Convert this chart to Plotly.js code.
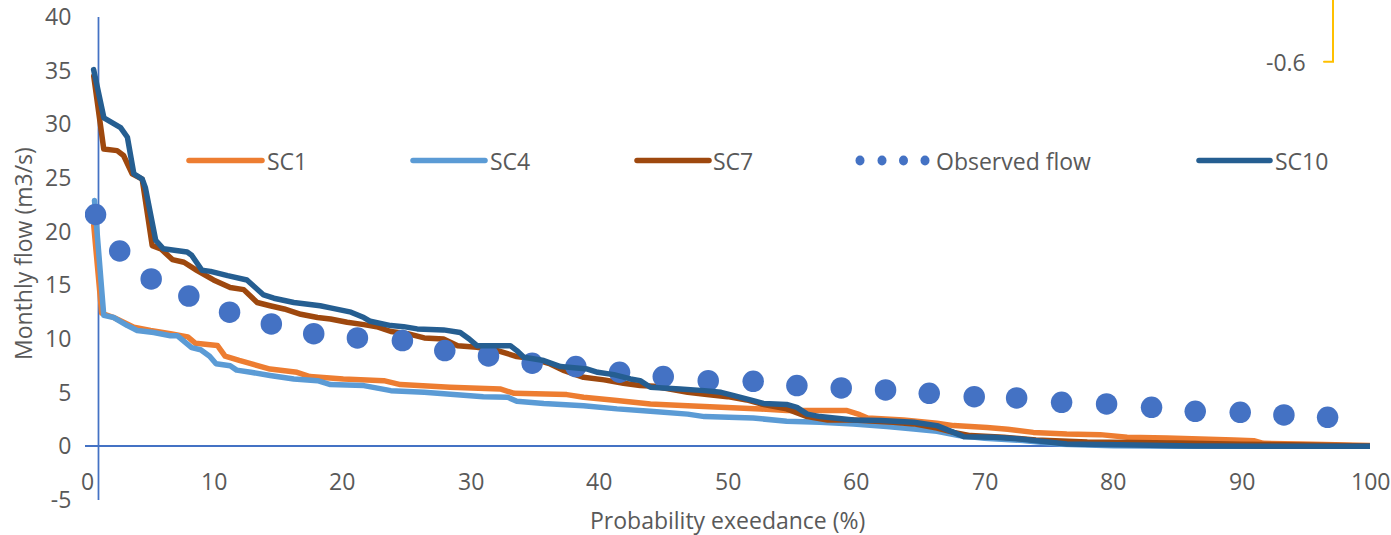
<!DOCTYPE html>
<html><head><meta charset="utf-8">
<script src="https://cdn.plot.ly/plotly-3.0.1.min.js"></script>
<style>html,body{margin:0;padding:0;background:#fff;} #chart{width:1391px;height:535px;}</style>
</head><body><div id="chart"></div>
<script>
// ---------------- data ----------------
const seriesNames = ['SC1', 'SC4', 'SC7', 'Observed flow', 'SC10'];

const sc1X = [0.68,1.3,2.24,3.0,3.8,5.1,6.65,8.0,8.6,10.3,10.9,12.0,12.9,14.4,16.5,17.5,20.1,23.25,24.55,28.4,32.3,33.4,37.5,38.8,41.4,44.0,46.9,49.5,52.6,54.6,59.3,60.3,60.9,63.7,66.3,67.6,70.2,71.8,73.8,76.4,79.0,81.1,84.2,89.4,90.95,91.7,94.6,100];
const sc1Y = [20.6,12.4,12.0,11.56,11.1,10.8,10.5,10.2,9.6,9.4,8.4,8.0,7.7,7.2,6.9,6.5,6.28,6.12,5.75,5.5,5.35,4.94,4.82,4.57,4.26,3.95,3.79,3.63,3.48,3.33,3.33,2.95,2.64,2.46,2.15,1.93,1.75,1.6,1.3,1.15,1.09,0.84,0.78,0.6,0.53,0.28,0.22,0.07];

const sc4X = [0.74,1.46,2.24,3.3,4.06,5.35,6.65,7.2,7.9,8.3,9.0,9.7,10.2,11.3,11.8,12.9,14.4,16.25,18.1,19.1,21.7,23.8,26.4,31.0,32.9,33.6,35.7,38.8,41.4,44.0,46.9,48.2,52.0,54.6,57.2,59.8,62.4,64.5,66.3,68,70,73,76,80,85,100];
const sc4Y = [22.9,12.2,12.0,11.25,10.8,10.6,10.3,10.3,9.6,9.2,9.0,8.4,7.7,7.5,7.1,6.9,6.6,6.28,6.12,5.75,5.66,5.19,5.03,4.63,4.57,4.2,4.0,3.79,3.49,3.26,3.0,2.77,2.64,2.33,2.24,2.09,1.84,1.62,1.4,1.0,0.75,0.55,0.2,0.05,0.0,0.0];

const sc7X = [0.68,1.46,2.5,3.0,3.67,4.45,5.23,5.9,6.8,7.7,8.7,10.0,11.3,12.35,13.4,14.4,15.5,16.8,18.1,19.1,20.4,21.7,22.7,23.8,25.1,26.4,27.9,29.0,30.5,32.1,33.6,34.9,36.2,37.3,38.8,40.4,41.9,43.2,44.3,46.9,48.4,50.0,51.5,52.6,54.6,56.2,57.8,59.8,62.9,64.5,66.3,67.6,68.9,71.5,74.0,78.0,85.0,90.0,95.0,100];
const sc7Y = [34.5,27.7,27.55,27.1,25.4,24.9,18.7,18.4,17.4,17.15,16.4,15.5,14.8,14.6,13.4,13.1,12.8,12.3,12.0,11.87,11.56,11.34,11.15,10.7,10.5,10.1,10.0,9.38,9.23,8.92,8.36,8.15,7.68,7.05,6.43,6.19,5.87,5.66,5.6,5.03,4.82,4.63,4.32,3.95,3.49,2.77,2.46,2.46,2.24,2.09,1.71,1.3,1.0,0.84,0.6,0.4,0.3,0.2,0.12,0.03];

const obsX = [0.82,2.7,5.15,8.08,11.25,14.5,17.8,21.2,24.7,28.0,31.4,34.8,38.2,41.6,45.0,48.5,52.0,55.4,58.85,62.3,65.7,69.2,72.5,76.0,79.5,83.0,86.4,89.9,93.3,96.7];
const obsY = [21.6,18.2,15.6,14.0,12.5,11.4,10.5,10.1,9.85,8.92,8.42,7.74,7.43,6.9,6.5,6.12,6.06,5.66,5.44,5.26,4.94,4.63,4.51,4.1,3.95,3.63,3.26,3.17,2.93,2.7];

const sc10X = [0.67,1.47,2.77,3.3,3.8,4.45,4.7,5.5,6.1,7.95,8.3,9.1,9.77,11.1,12.6,13.9,14.7,16.25,18.3,19.1,20.7,21.7,22.2,23.8,24.8,25.85,27.9,29.2,29.9,30.5,33.1,33.6,34.15,35.7,37.0,39.1,39.9,41.15,42.45,43.2,44.0,46.3,48.2,49.5,50.5,52.0,52.8,54.6,55.4,56.2,57.2,59.8,61.9,64.5,66.3,67.6,68.4,70.7,72.8,74.6,76.4,81.7,86.3,100];
const sc10Y = [35.1,30.6,29.7,28.8,25.4,24.9,24.1,19.2,18.4,18.1,17.8,16.4,16.3,15.9,15.5,14.1,13.8,13.4,13.1,12.9,12.5,12.0,11.65,11.25,11.15,10.94,10.85,10.6,10.0,9.38,9.38,8.92,8.3,7.99,7.43,7.2,6.9,6.68,6.28,6.12,5.5,5.35,5.19,5.03,4.72,4.26,4.0,3.9,3.63,3.0,2.77,2.46,2.4,2.24,1.93,1.3,0.9,0.84,0.69,0.45,0.22,0.12,0.02,0.0];

const xTickVals = [0,10,20,30,40,50,60,70,80,90,100];
const xTickText = ['0','10','20','30','40','50','60','70','80','90','100'];
const yTickVals = [-5,0,5,10,15,20,25,30,35,40];
const yTickText = ['-5','0','5','10','15','20','25','30','35','40'];
const xTitle = 'Probability exeedance (%)';
const yTitle = 'Monthly flow (m3/s)';
const strayLabel = '-0.6';
const yAxisCrossX = 1.05;

// ---------------- styles ----------------
const colors = {SC1:'#ED7D31', SC4:'#5B9BD5', SC7:'#9E480E', 'Observed flow':'#4472C4', SC10:'#255E91'};
const FONT = '"Open Sans", "Noto Sans", sans-serif';
const FS = 23;
const TXT = '#595959';
const AXIS = '#4472C4';

const M = {l:85, r:21, t:17, b:35};
const W = 1391 - M.l - M.r, H = 535 - M.t - M.b;
const px = x => (x - M.l) / W;
const py = y => (M.t + H - y) / H;

const lineW = 5.5;
function lineTrace(name, x, y) {
  return {type:'scatter', mode:'lines', name, x, y, showlegend:false,
    line:{color:colors[name], width:lineW, simplify:false}, hoverinfo:'skip'};
}
const traces = [
  lineTrace('SC1', sc1X, sc1Y),
  lineTrace('SC4', sc4X, sc4Y),
  lineTrace('SC7', sc7X, sc7Y),
  {type:'scatter', mode:'markers', name:'Observed flow', x:obsX, y:obsY, showlegend:false,
   marker:{color:colors['Observed flow'], size:21.5, line:{width:0}}, hoverinfo:'skip'},
  lineTrace('SC10', sc10X, sc10Y)
];

const annotations = [];
const shapes = [];
// x tick labels placed beside the y=0 axis line
xTickVals.forEach((v, i) => annotations.push({
  xref:'x', yref:'y', x:v, y:0, yshift:-35, xshift:(v === 0 ? 2 : 0), text:xTickText[i], showarrow:false,
  xanchor:'center', yanchor:'middle', font:{family:FONT, size:FS, color:TXT}
}));
annotations.push({xref:'paper', yref:'paper', x:px(727), y:py(520), text:xTitle, showarrow:false,
  xanchor:'center', yanchor:'middle', font:{family:FONT, size:FS, color:TXT}});
annotations.push({xref:'paper', yref:'paper', x:px(23), y:py(254), text:yTitle, showarrow:false,
  textangle:-90, xanchor:'center', yanchor:'middle', font:{family:FONT, size:FS, color:TXT}});
annotations.push({xref:'paper', yref:'paper', x:px(1308), y:py(62), text:strayLabel, showarrow:false,
  xanchor:'right', yanchor:'middle', font:{family:FONT, size:FS, color:TXT}});

// vertical axis line
shapes.push({type:'line', xref:'x', yref:'y', x0:yAxisCrossX, x1:yAxisCrossX, y0:-5, y1:40,
  line:{color:AXIS, width:1.75}, layer:'below'});
// stray yellow bracket (top right)
shapes.push({type:'path', xref:'paper', yref:'paper',
  path:`M ${px(1333)} ${py(-2)} L ${px(1333)} ${py(61.7)} L ${px(1324)} ${py(61.7)}`,
  line:{color:'#FFC000', width:2}});

// manual legend
const legY = 160.5;
const legendItems = [
  {name:'SC1', x0:189, x1:262, tx:265},
  {name:'SC4', x0:413, x1:485, tx:488},
  {name:'SC7', x0:637, x1:709, tx:711},
  {name:'Observed flow', dots:[860,882,903.5,925], tx:934},
  {name:'SC10', x0:1199, x1:1270, tx:1273}
];
legendItems.forEach(it => {
  if (it.dots) {
    it.dots.forEach(d => shapes.push({type:'circle', xref:'paper', yref:'paper',
      x0:px(d-4.5), x1:px(d+4.5), y0:py(legY+5), y1:py(legY-5),
      fillcolor:colors[it.name], line:{width:0}}));
  } else {
    shapes.push({type:'line', xref:'paper', yref:'paper', x0:px(it.x0), x1:px(it.x1),
      y0:py(legY), y1:py(legY), line:{color:colors[it.name], width:lineW}});
  }
  annotations.push({xref:'paper', yref:'paper', x:px(it.tx), y:py(legY), text:it.name,
    showarrow:false, xanchor:'left', yanchor:'middle', font:{family:FONT, size:FS, color:TXT}});
});

const layout = {
  width:1391, height:535, margin:M, paper_bgcolor:'#fff', plot_bgcolor:'#fff',
  showlegend:false,
  xaxis:{range:[0,100], showticklabels:false, showgrid:false, zeroline:false, showline:false, ticks:''},
  yaxis:{range:[-5,40], tickvals:yTickVals, ticktext:yTickText, showgrid:false, showline:false,
    zeroline:true, zerolinecolor:AXIS, zerolinewidth:1.75,
    ticks:'outside', ticklen:8, tickcolor:'rgba(0,0,0,0)',
    tickfont:{family:FONT, size:FS, color:TXT}},
  annotations, shapes
};

Plotly.newPlot('chart', traces, layout, {staticPlot:true, displayModeBar:false}).then(gd => {
  gd.querySelectorAll('.scatterlayer path.js-line').forEach(p => {
    p.style.strokeLinecap = 'round';
    p.style.strokeLinejoin = 'round';
  });
  gd.querySelectorAll('.shapelayer path').forEach(p => { p.style.strokeLinecap = 'round'; });
});
</script>
</body></html>
